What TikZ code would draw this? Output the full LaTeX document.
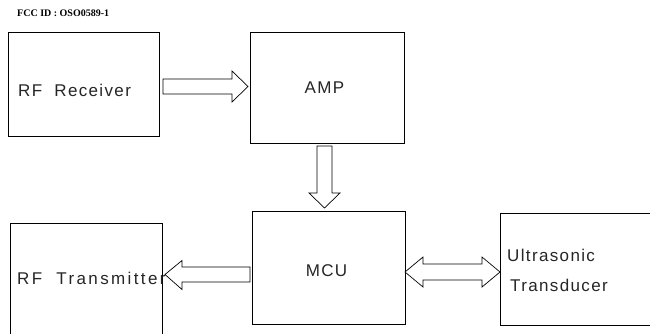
\documentclass[tikz,border=0pt]{standalone}
\usepackage{fontspec}
\setmainfont{Liberation Sans}
\newfontfamily\titlefont{Liberation Serif}
\usetikzlibrary{calc}
\tikzset{
  blockbox/.style={draw=black, line width=0.7pt, rectangle, inner sep=0pt, outer sep=0pt},
  lbl/.style={font=\fontsize{17}{19}\selectfont\addfontfeature{LetterSpace=8}, inner sep=0pt, text=black!85},
  barrow/.style={draw=black, line width=0.7pt, line join=miter, fill=white}
}
\begin{document}
\begin{tikzpicture}[x=1pt,y=1pt]
\path[use as bounding box, clip] (0,0) rectangle (650,333);
\fill[white] (0,0) rectangle (650,333);
% title
\node[anchor=west, inner sep=0pt, font=\titlefont\bfseries\fontsize{10}{12}\selectfont] (title) at (17,320) {FCC ID : OSO0589-1};
% boxes
\node[blockbox, minimum width=151, minimum height=104] (rx) at (83.5,249) {};
\node[blockbox, minimum width=154, minimum height=111] (amp) at (327,245.5) {};
\node[blockbox, minimum width=153, minimum height=113] (mcu) at (328.5,65.5) {};
\node[blockbox, minimum width=152, minimum height=122] (tx) at (86,49) {};
\node[blockbox, minimum width=165, minimum height=112] (us) at (582.5,64) {};
% labels
\node[lbl, anchor=west] (rxl) at (18,243) {RF\ \ Receiver};
\node[lbl] (ampl) at (324.5,245) {AMP};
\node[lbl] (mcul) at (326.5,62) {MCU};
\node[lbl, anchor=west] (txl) at (17,55) {\addfontfeature{LetterSpace=14}RF\ \ Transmitter};
\node[lbl, anchor=west] (usl1) at (507,78) {Ultrasonic};
\node[lbl, anchor=west] (usl2) at (510,48) {Transducer};
% arrow rx -> amp
\draw[barrow] let \p1=(rx.east), \p2=(amp.west) in
  ({\x1+4pt},{254pt}) -- ({\x2-18pt},{254pt}) -- ({\x2-18pt},{262pt}) -- ({\x2-2pt},{246.5pt})
  -- ({\x2-18pt},{231pt}) -- ({\x2-18pt},{239pt}) -- ({\x1+4pt},{239pt}) -- cycle;
% arrow amp -> mcu
\draw[barrow] let \p1=(amp.south), \p2=(mcu.north) in
  ({317pt},{\y1-3pt}) -- ({332pt},{\y1-3pt}) -- ({332pt},{\y2+18pt}) -- ({340pt},{\y2+18pt})
  -- ({324.5pt},{\y2+3pt}) -- ({309pt},{\y2+18pt}) -- ({317pt},{\y2+18pt}) -- cycle;
% arrow mcu -> tx
\draw[barrow] let \p1=(mcu.west), \p2=(tx.east) in
  ({\x1-2pt},{66pt}) -- ({\x2+20pt},{66pt}) -- ({\x2+20pt},{72.5pt}) -- ({\x2+3pt},{58.5pt})
  -- ({\x2+20pt},{43.5pt}) -- ({\x2+20pt},{51pt}) -- ({\x1-2pt},{51pt}) -- cycle;
% double arrow mcu <-> us
\draw[barrow] let \p1=(mcu.east), \p2=(us.west) in
  ({\x1},{61pt}) -- ({\x1+18pt},{76pt}) -- ({\x1+18pt},{69pt}) -- ({\x2-18pt},{69pt})
  -- ({\x2-18pt},{76pt}) -- ({\x2},{61pt}) -- ({\x2-18pt},{46pt}) -- ({\x2-18pt},{53pt})
  -- ({\x1+18pt},{53pt}) -- ({\x1+18pt},{46pt}) -- cycle;
\end{tikzpicture}
\end{document}
